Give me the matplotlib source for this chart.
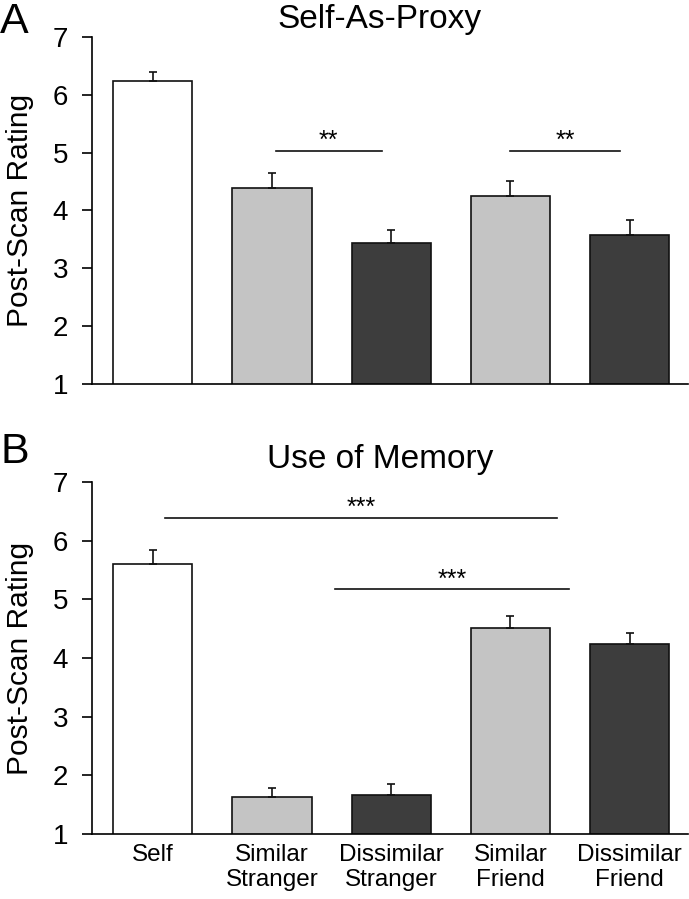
import numpy as np
import matplotlib
matplotlib.use('Agg')
import matplotlib.pyplot as plt

plt.rcParams['font.family'] = ['Liberation Sans', 'DejaVu Sans']

##### data
conditions = ['Self', 'Similar\nStranger', 'Dissimilar\nStranger', 'Similar\nFriend', 'Dissimilar\nFriend']
colors = ['#ffffff', '#c4c4c4', '#3d3d3d', '#c4c4c4', '#3d3d3d']

proxy_mean = [6.23, 4.39, 3.43, 4.25, 3.57]
proxy_err = [0.16, 0.26, 0.23, 0.26, 0.27]

memory_mean = [5.60, 1.63, 1.67, 4.51, 4.24]
memory_err = [0.25, 0.16, 0.18, 0.21, 0.19]

# significance brackets: (x start, x end, y, label)
proxy_sig = [(1.03, 1.92, 5.03, '**'), (3.0, 3.92, 5.03, '**')]
memory_sig = [(0.10, 3.39, 6.39, '***'), (1.53, 3.49, 5.17, '***')]

fig = plt.figure(figsize=(6.89, 8.99), dpi=100)
ax1 = fig.add_axes([0.1335, 0.5729, 0.865, 0.386])
ax2 = fig.add_axes([0.1335, 0.0723, 0.865, 0.3915])

x = np.arange(len(conditions))

def draw_panel(ax, means, errs, sig, title, tpad):
    ax.bar(x, means, width=0.665, bottom=0, color=colors, edgecolor='#111111',
           linewidth=1.2, zorder=2)
    ax.errorbar(x, means, yerr=[np.zeros(len(errs)), errs], fmt='none',
                ecolor='#111111', elinewidth=1.2, capsize=3, capthick=1.2, zorder=3)
    for x0, x1, y, lab in sig:
        ax.plot([x0, x1], [y, y], color='#111111', lw=1.2, zorder=3)
        ax.text((x0 + x1) / 2, y + 0.17, lab, ha='center', va='center', fontsize=18)
    ax.set_ylim(1, 7)
    ax.set_xlim(-0.51, 4.49)
    ax.set_yticks([1, 2, 3, 4, 5, 6, 7])
    ax.tick_params(axis='y', labelsize=20, length=7, width=1.2, pad=10)
    ax.tick_params(axis='x', length=0)
    for s in ['top', 'right']:
        ax.spines[s].set_visible(False)
    ax.spines['left'].set_linewidth(1.2)
    ax.spines['bottom'].set_linewidth(1.2)
    ax.set_ylabel('Post-Scan Rating', fontsize=21.5)
    ax.yaxis.set_label_coords(-0.097, 0.5)
    ax.set_title(title, fontsize=24, pad=tpad, x=0.483)

draw_panel(ax1, proxy_mean, proxy_err, proxy_sig, 'Self-As-Proxy', 6.5)
ax1.set_xticks([])

draw_panel(ax2, memory_mean, memory_err, memory_sig, 'Use of Memory', 10)
ax2.set_xticks(x)
ax2.set_xticklabels(conditions, fontsize=17.5, linespacing=1.2)
ax2.tick_params(axis='x', pad=7)

fig.text(0.0, 1 - 33 / 899, 'A', fontsize=31, va='baseline', ha='left')
fig.text(0.0, 1 - 463 / 899, 'B', fontsize=31, va='baseline', ha='left')

plt.savefig('out.png', dpi=100)
